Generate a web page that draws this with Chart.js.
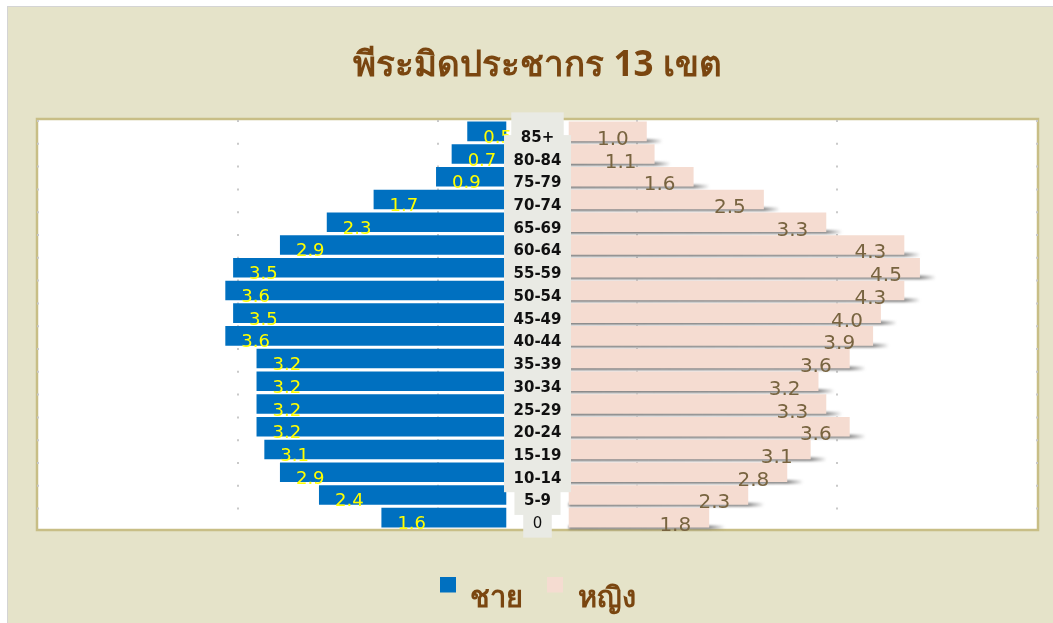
<!DOCTYPE html>
<html>
<head>
<meta charset="utf-8">
<script src="https://cdn.jsdelivr.net/npm/chart.js@4.4.1/dist/chart.umd.min.js"></script>
<style>
    body { margin: 0; background: #ffffff; }
    #frame {
        position: absolute; left: 7px; top: 6px; width: 1070px; height: 640px;
        background: #E5E3C9; border: 1px solid #d4d4d4;
    }
    #chart { position: absolute; left: 0; top: 0; }
</style>
</head>
<body>
<div id="frame"></div>
<canvas id="chart" width="1053" height="623"></canvas>
<script>
// ===============================
// DATA
// ===============================
const ageGroups = ["85+", "80-84", "75-79", "70-74", "65-69", "60-64", "55-59", "50-54", "45-49",
    "40-44", "35-39", "30-34", "25-29", "20-24", "15-19", "10-14", "5-9", "0"];
const maleValues = [0.5, 0.7, 0.9, 1.7, 2.3, 2.9, 3.5, 3.6, 3.5, 3.6, 3.2, 3.2, 3.2, 3.2, 3.1, 2.9, 2.4, 1.6];
const femaleValues = [1.0, 1.1, 1.6, 2.5, 3.3, 4.3, 4.5, 4.3, 4.0, 3.9, 3.6, 3.2, 3.3, 3.6, 3.1, 2.8, 2.3, 1.8];
const seriesNames = ["ชาย", "หญิง"];
const chartTitle = "พีระมิดประชากร 13 เขต";

// half of the empty middle column (in value units)
const GAP = 0.4;

const BLUE = "#0070C0";
const PINK = "#F5DCD1";
const BROWN = "#7A4610";

// legend marker: square sitting above the text middle
function legendMark(color) {
    const c = document.createElement("canvas");
    c.width = 16;
    c.height = 44;
    const g = c.getContext("2d");
    g.fillStyle = color;
    g.fillRect(0, 0, 16, 16);
    return c;
}
const legendMarks = [legendMark(BLUE), legendMark(PINK)];

// ===============================
// DRAWING HELPERS (plot frame, shadows, labels)
// ===============================
const pyramidDecor = {
    id: "pyramidDecor",
    beforeDraw(chart) {
        const { ctx, chartArea: a } = chart;
        ctx.save();
        ctx.fillStyle = "#ffffff";
        ctx.fillRect(a.left, a.top, a.right - a.left, a.bottom - a.top);
        ctx.strokeStyle = "#C8BE86";
        ctx.lineWidth = 2.5;
        ctx.strokeRect(a.left - 1, a.top - 1, a.right - a.left + 2, a.bottom - a.top + 2);
        ctx.restore();
    },
    beforeDatasetDraw(chart, args) {
        if (args.index !== 1) return;
        const ctx = chart.ctx;
        ctx.save();
        ctx.filter = "blur(1px)";
        args.meta.data.forEach(bar => {
            const left = bar.base;
            const right = bar.x;
            const bottom = bar.y + bar.height / 2;
            const tail = right + 16;
            const grad = ctx.createLinearGradient(left, 0, tail, 0);
            grad.addColorStop(0, "rgba(105,105,105,0.85)");
            grad.addColorStop((right - left) / (tail - left), "rgba(105,105,105,0.75)");
            grad.addColorStop(1, "rgba(105,105,105,0)");
            ctx.fillStyle = grad;
            ctx.fillRect(left, bottom - 2, tail - left, 4);
        });
        ctx.restore();
    },
    afterDatasetsDraw(chart) {
        const { ctx } = chart;
        const xScale = chart.scales.x;
        const yScale = chart.scales.y;
        ctx.save();

        // male values, yellow, at the outer end of the bar
        ctx.font = "18px 'DejaVu Sans'";
        ctx.fillStyle = "#FFFF00";
        ctx.textAlign = "left";
        ctx.textBaseline = "alphabetic";
        chart.getDatasetMeta(0).data.forEach((bar, i) => {
            ctx.fillText(maleValues[i].toFixed(1), bar.x + 16, bar.y + 11.5);
        });

        // female values
        ctx.font = "20px 'DejaVu Sans'";
        ctx.fillStyle = "#786440";
        ctx.textAlign = "right";
        chart.getDatasetMeta(1).data.forEach((bar, i) => {
            ctx.fillText(femaleValues[i].toFixed(1), bar.x - 18, bar.y + 13.5);
        });

        // age group labels in the middle, on grey boxes
        const xc = xScale.getPixelForValue(0);
        const fontFor = lbl => (/[-+]/.test(lbl) ? "bold " : "") + "15px 'DejaVu Sans'";
        ctx.fillStyle = "#E9EAE4";
        ageGroups.forEach((lbl, i) => {
            const base = yScale.getPixelForValue(i) + 10.5;
            ctx.font = fontFor(lbl);
            const w = ctx.measureText(lbl).width;
            ctx.fillRect(xc - w / 2 - 9.5, base - 29.5, w + 19, 39);
        });
        ctx.fillStyle = "#111111";
        ctx.textAlign = "center";
        ageGroups.forEach((lbl, i) => {
            const base = yScale.getPixelForValue(i) + 10.5;
            ctx.font = fontFor(lbl);
            ctx.fillText(lbl, xc, base);
        });
        ctx.restore();
    }
};

// ===============================
// CHART
// ===============================
const ctx = document.getElementById("chart").getContext("2d");

new Chart(ctx, {
    type: "bar",
    data: {
        labels: ageGroups,
        datasets: [
            {
                label: seriesNames[0],
                data: maleValues.map(v => [-GAP - v, -GAP]),
                backgroundColor: BLUE,
                grouped: false,
                barPercentage: 0.86,
                categoryPercentage: 1
            },
            {
                label: seriesNames[1],
                data: femaleValues.map(v => [GAP, GAP + v]),
                backgroundColor: PINK,
                grouped: false,
                barPercentage: 0.86,
                categoryPercentage: 1
            }
        ]
    },
    options: {
        indexAxis: "y",
        responsive: false,
        animation: false,
        devicePixelRatio: 1,
        layout: { padding: { left: 38, right: 16, top: 0, bottom: 0 } },
        scales: {
            x: { display: false, min: -6.4, max: 6.4 },
            grid5: {
                type: "linear",
                axis: "x",
                position: "top",
                min: 0,
                max: 5,
                ticks: { display: false, stepSize: 1 },
                grid: { color: "#c9c9c9", lineWidth: 2, drawTicks: false },
                border: { display: false, dash: [2, 20.8] }
            },
            y: { display: false }
        },
        plugins: {
            title: {
                display: true,
                text: chartTitle,
                color: BROWN,
                font: { size: 35, weight: "bold", family: "'Noto Sans', 'DejaVu Sans', sans-serif" },
                padding: { top: 45, bottom: 33 }
            },
            legend: {
                position: "bottom",
                title: { display: true, text: "", font: { size: 12 }, padding: { top: 0, bottom: 16.6 } },
                labels: {
                    usePointStyle: true,
                    boxWidth: 16,
                    padding: 24,
                    color: BROWN,
                    font: { size: 29, weight: "bold", family: "'Noto Sans', 'DejaVu Sans', sans-serif" },
                    generateLabels(chart) {
                        const items = Chart.defaults.plugins.legend.labels.generateLabels(chart);
                        items.forEach((it, i) => { it.pointStyle = legendMarks[i]; });
                        return items;
                    }
                }
            },
            tooltip: { enabled: false }
        }
    },
    plugins: [pyramidDecor]
});
</script>
</body>
</html>
